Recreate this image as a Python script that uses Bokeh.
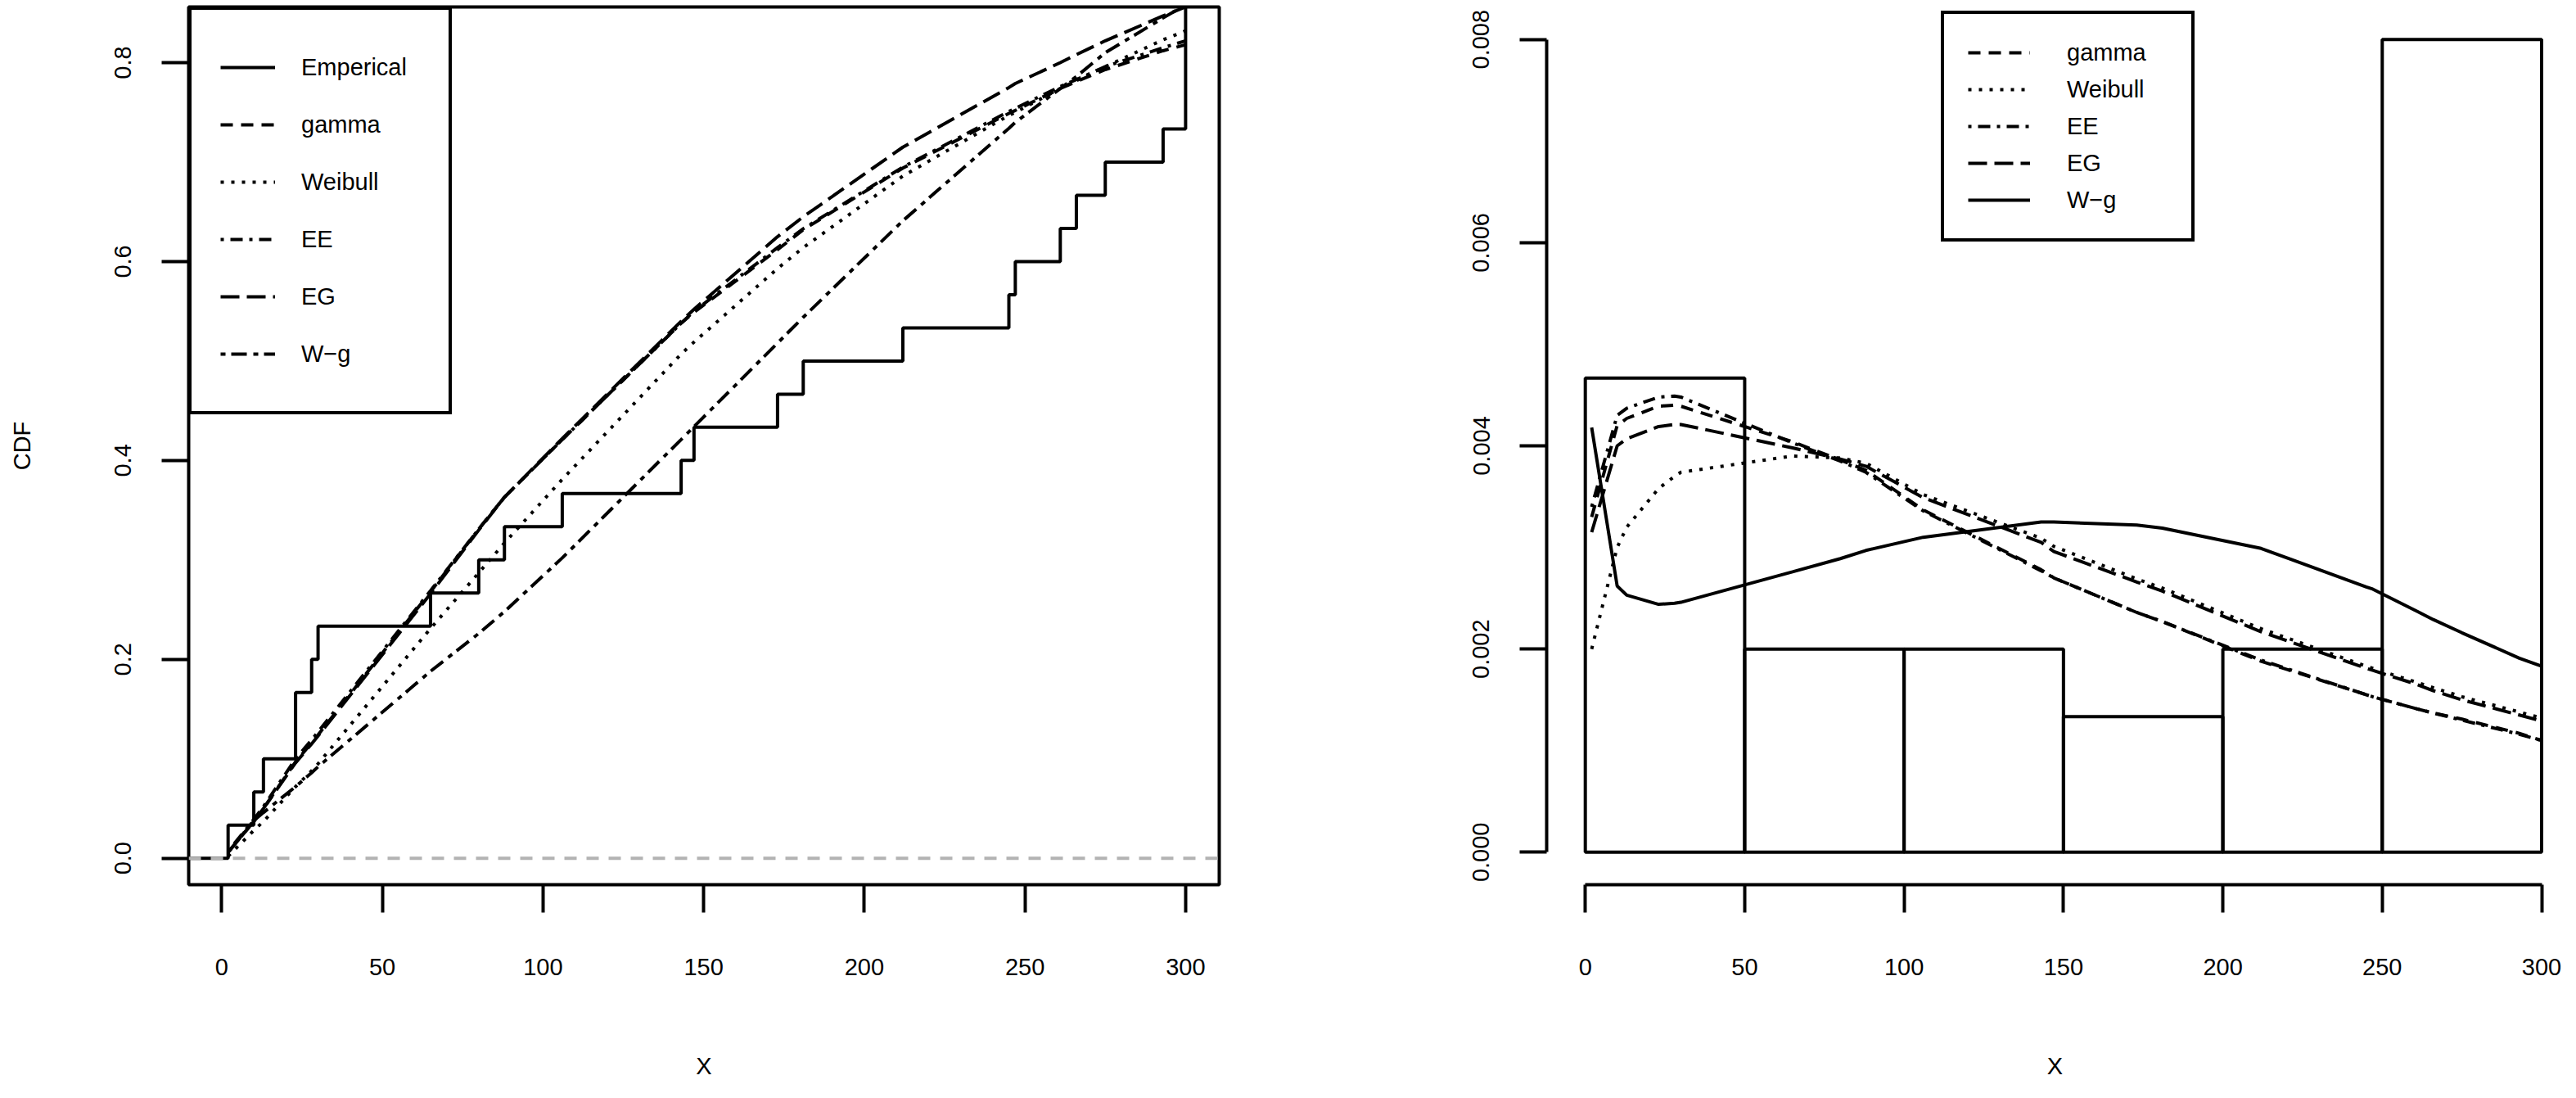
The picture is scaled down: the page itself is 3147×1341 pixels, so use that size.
import numpy as np
from bokeh.plotting import figure
from bokeh.models import Legend, LegendItem, Span, FixedTicker, NumeralTickFormatter, Range1d
from bokeh.layouts import row
from bokeh.embed import file_html
from bokeh.resources import INLINE

# ---------------- data ----------------
observations = [2, 10, 13, 23, 23, 28, 30, 65, 80, 88, 106, 143, 147, 173, 181, 212,
                245, 247, 261, 266, 275, 293, 300, 300, 300, 300, 300, 300, 300, 300]
grid = [2, 10, 13, 23, 28, 30, 65, 80, 88, 106, 143, 147, 173, 181, 212, 245, 247, 261, 266, 275, 293, 300]

# fitted CDFs (left panel)
cdf_gamma = [0.006, 0.037, 0.050, 0.097, 0.116, 0.124, 0.268, 0.331, 0.363, 0.421, 0.538, 0.549,
             0.612, 0.632, 0.694, 0.749, 0.752, 0.774, 0.781, 0.793, 0.812, 0.818]
cdf_weibull = [0.002, 0.028, 0.037, 0.072, 0.088, 0.095, 0.231, 0.287, 0.317, 0.381, 0.507, 0.519,
               0.593, 0.614, 0.686, 0.747, 0.750, 0.774, 0.782, 0.796, 0.823, 0.832]
cdf_ee = [0.007, 0.039, 0.052, 0.100, 0.119, 0.127, 0.269, 0.331, 0.363, 0.421, 0.538, 0.550,
          0.614, 0.633, 0.695, 0.751, 0.754, 0.776, 0.783, 0.796, 0.815, 0.822]
cdf_eg = [0.006, 0.037, 0.050, 0.096, 0.115, 0.123, 0.266, 0.330, 0.363, 0.422, 0.540, 0.552,
          0.625, 0.645, 0.715, 0.775, 0.779, 0.800, 0.808, 0.822, 0.847, 0.856]
cdf_wg = [0.006, 0.038, 0.046, 0.072, 0.086, 0.092, 0.188, 0.226, 0.248, 0.302, 0.421, 0.434,
          0.518, 0.544, 0.641, 0.734, 0.740, 0.774, 0.786, 0.810, 0.845, 0.858]

# fitted densities (right panel)
pdf_gamma = [0.00330, 0.00420, 0.00427, 0.00439, 0.00440, 0.00439, 0.00404, 0.00386, 0.00376, 0.00337,
             0.00278, 0.00270, 0.00236, 0.00227, 0.00188, 0.00155, 0.00153, 0.00141, 0.00137, 0.00131,
             0.00117, 0.00110]
pdf_weibull = [0.00200, 0.00300, 0.00320, 0.00358, 0.00370, 0.00374, 0.00390, 0.00388, 0.00383, 0.00352,
               0.00309, 0.00301, 0.00269, 0.00260, 0.00220, 0.00183, 0.00181, 0.00167, 0.00162, 0.00153,
               0.00138, 0.00132]
pdf_ee = [0.00340, 0.00430, 0.00437, 0.00448, 0.00449, 0.00448, 0.00403, 0.00385, 0.00374, 0.00336,
          0.00277, 0.00270, 0.00236, 0.00227, 0.00189, 0.00155, 0.00153, 0.00141, 0.00137, 0.00130,
          0.00116, 0.00110]
pdf_eg = [0.00315, 0.00400, 0.00407, 0.00419, 0.00421, 0.00421, 0.00398, 0.00387, 0.00380, 0.00349,
          0.00305, 0.00296, 0.00266, 0.00257, 0.00217, 0.00181, 0.00179, 0.00165, 0.00159, 0.00150,
          0.00135, 0.00129]
pdf_wg = [0.00418, 0.00262, 0.00253, 0.00244, 0.00245, 0.00246, 0.00276, 0.00289, 0.00297, 0.00310,
          0.00325, 0.00325, 0.00322, 0.00319, 0.00299, 0.00261, 0.00259, 0.00237, 0.00229, 0.00216,
          0.00191, 0.00183]

bin_edges = [0, 50, 100, 150, 200, 250, 300]
x_ticks = [0, 50, 100, 150, 200, 250, 300]
cdf_ticks = [0.0, 0.2, 0.4, 0.6, 0.8]
pdf_ticks = [0.000, 0.002, 0.004, 0.006, 0.008]

FONT = "Liberation Sans"
FS = "29px"
LW = 4

# dash styles
DASH_GAMMA = "15 10"
DASH_WEIB = "4 9"
DASH_EE = "4 8 15 8"
DASH_EG = "23 9"
DASH_WG = "6 7 19 8"


def style(p, yfmt):
    p.grid.visible = False
    p.background_fill_color = "white"
    p.border_fill_color = "white"
    p.xaxis.ticker = FixedTicker(ticks=x_ticks)
    p.yaxis.formatter = NumeralTickFormatter(format=yfmt)
    for ax in p.axis:
        ax.major_tick_in = 0
        ax.minor_tick_line_color = None
        ax.major_tick_line_width = LW
        ax.major_tick_line_color = "black"
        ax.axis_line_width = LW
        ax.axis_line_color = "black"
        ax.major_label_text_font = FONT
        ax.major_label_text_font_size = FS
        ax.major_label_text_color = "black"
        ax.axis_label_text_font = FONT
        ax.axis_label_text_font_size = FS
        ax.axis_label_text_font_style = "normal"
        ax.axis_label_text_color = "black"
    p.yaxis.major_tick_out = 33
    p.xaxis.major_tick_out = 34
    p.yaxis.major_label_orientation = "vertical"
    p.yaxis.major_label_standoff = 37
    p.xaxis.major_label_standoff = 56
    p.xaxis.axis_label_standoff = 92


# ---------------- left panel: CDF ----------------
p1 = figure(width=1565, height=1325, title=None,
            x_range=Range1d(-10.27, 310.47), y_range=Range1d(-0.0266, 0.856),
            output_backend="svg", toolbar_location=None,
            min_border_left=230, min_border_right=76, min_border_top=8, min_border_bottom=245,
            x_axis_label="X", y_axis_label="CDF")
style(p1, "0.0")
p1.yaxis.ticker = FixedTicker(ticks=cdf_ticks)
p1.yaxis.axis_label_standoff = 95
for ax in p1.axis:
    ax.axis_line_color = None
p1.outline_line_color = "black"
p1.outline_line_width = LW
p1.outline_line_alpha = 1.0

# empirical CDF as a step line
vals, counts = np.unique(np.array(observations), return_counts=True)
levels = np.cumsum(counts) / len(observations)
sx, sy = [p1.x_range.start], [0.0]
prev = 0.0
for v, lv in zip(vals, levels):
    sx += [v, v]
    sy += [prev, lv]
    prev = lv
sx.append(p1.x_range.end)
sy.append(prev)

r_emp = p1.line(sx, sy, line_color="black", line_width=LW)
p1.add_layout(Span(location=0, dimension="width", line_color="#b3b3b3",
                   line_width=LW, line_dash="15 12"))
r_g = p1.line(grid, cdf_gamma, line_color="black", line_width=LW, line_dash=DASH_GAMMA)
r_w = p1.line(grid, cdf_weibull, line_color="black", line_width=LW, line_dash=DASH_WEIB)
r_e = p1.line(grid, cdf_ee, line_color="black", line_width=LW, line_dash=DASH_EE)
r_eg = p1.line(grid, cdf_eg, line_color="black", line_width=LW, line_dash=DASH_EG)
r_wg = p1.line(grid, cdf_wg, line_color="black", line_width=LW, line_dash=DASH_WG)

leg1 = Legend(items=[LegendItem(label="Emperical", renderers=[r_emp]),
                     LegendItem(label="gamma", renderers=[r_g]),
                     LegendItem(label="Weibull", renderers=[r_w]),
                     LegendItem(label="EE", renderers=[r_e]),
                     LegendItem(label="EG", renderers=[r_eg]),
                     LegendItem(label="W\u2212g", renderers=[r_wg])],
              location="top_left", margin=0, padding=35, spacing=0,
              glyph_height=70, glyph_width=67, label_standoff=32, label_width=145,
              label_text_font=FONT, label_text_font_size=FS, label_text_color="black",
              border_line_color="black", border_line_width=LW, border_line_alpha=1.0,
              background_fill_color="white", background_fill_alpha=1.0)
p1.add_layout(leg1)

# ---------------- right panel: histogram + densities ----------------
p2 = figure(width=1566, height=1325, title=None,
            x_range=Range1d(-12.12, 306.8), y_range=Range1d(-0.00032, 0.00832),
            output_backend="svg", toolbar_location=None,
            min_border_left=324, min_border_right=0, min_border_top=8, min_border_bottom=245,
            x_axis_label="X")
style(p2, "0.000")
p2.yaxis.ticker = FixedTicker(ticks=pdf_ticks)
p2.outline_line_color = None
p2.xaxis.bounds = (bin_edges[0], bin_edges[-1])
p2.yaxis.bounds = (pdf_ticks[0], pdf_ticks[-1])

dens, edges = np.histogram(np.array(observations), bins=bin_edges, density=True)
p2.quad(left=edges[:-1], right=edges[1:], bottom=0, top=dens,
        fill_color=None, line_color="black", line_width=LW)

q_g = p2.line(grid, pdf_gamma, line_color="black", line_width=LW, line_dash=DASH_GAMMA)
q_w = p2.line(grid, pdf_weibull, line_color="black", line_width=LW, line_dash=DASH_WEIB)
q_e = p2.line(grid, pdf_ee, line_color="black", line_width=LW, line_dash=DASH_EE)
q_eg = p2.line(grid, pdf_eg, line_color="black", line_width=LW, line_dash=DASH_EG)
q_wg = p2.line(grid, pdf_wg, line_color="black", line_width=LW)

leg2 = Legend(items=[LegendItem(label="gamma", renderers=[q_g]),
                     LegendItem(label="Weibull", renderers=[q_w]),
                     LegendItem(label="EE", renderers=[q_e]),
                     LegendItem(label="EG", renderers=[q_eg]),
                     LegendItem(label="W\u2212g", renderers=[q_wg])],
              location=(482, 785), margin=0, padding=29, spacing=9,
              glyph_height=36, glyph_width=76, label_standoff=45, label_width=123,
              label_text_font=FONT, label_text_font_size=FS, label_text_color="black",
              border_line_color="black", border_line_width=LW, border_line_alpha=1.0,
              background_fill_color="white", background_fill_alpha=1.0)
p2.add_layout(leg2)

layout = row(p1, p2)
open("out.html", "w").write(file_html(layout, INLINE))
